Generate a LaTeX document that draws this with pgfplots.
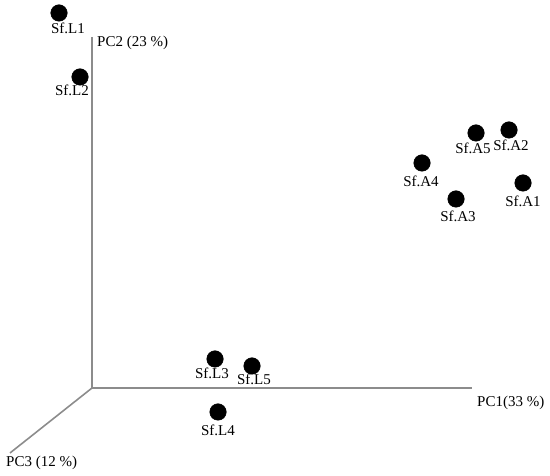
\documentclass[border=0pt]{standalone}
\usepackage{pgfplots}
\pgfplotsset{compat=1.18}
\usepackage{pgfplotstable}
\usepackage{fontspec}
\setmainfont{Liberation Serif}
\definecolor{axgray}{HTML}{8C8C8C}
\pgfplotstableread{
x y
59 463
80 399
476 343
509 346
422 313
523 293
456 277
215 117
252 110
218 64
}\points
\pgfplotstableread{
x y lab
68 448 Sf.L1
72 386 Sf.L2
473 328 Sf.A5
511 331 Sf.A2
421 295 Sf.A4
523 275 Sf.A1
458 260 Sf.A3
212 103 Sf.L3
254 97 Sf.L5
218 46 Sf.L4
}\labels
\begin{document}
\begin{tikzpicture}
\begin{axis}[hide axis, x=1bp, y=1bp, xmin=0, xmax=550, ymin=0, ymax=476,
  clip=false, scale only axis]
\addplot[draw=none] coordinates {(0,0) (550,476)};
\addplot[axgray, line width=1.6bp] coordinates {(92,439) (92,88) (472,88)};
\addplot[axgray, line width=1.6bp] coordinates {(92,88) (10,23)};
\addplot[only marks, mark=*, mark size=8.3bp, black] table[x=x,y=y] {\points};
\addplot[only marks, mark=none, point meta=explicit symbolic,
  nodes near coords, nodes near coords align={center},
  every node near coord/.append style={anchor=center, inner sep=0pt, font=\fontsize{15bp}{17bp}\selectfont}]
  table[x=x,y=y,meta=lab] {\labels};
\node[anchor=west, inner sep=0pt, font=\fontsize{15bp}{17bp}\selectfont] at (axis cs:97,433) {PC2 (23 \%)};
\node[anchor=west, inner sep=0pt, font=\fontsize{15bp}{17bp}\selectfont] at (axis cs:477,73) {PC1(33 \%)};
\node[anchor=west, inner sep=0pt, font=\fontsize{15bp}{17bp}\selectfont] at (axis cs:6,13) {PC3 (12 \%)};
\end{axis}
\end{tikzpicture}
\end{document}
